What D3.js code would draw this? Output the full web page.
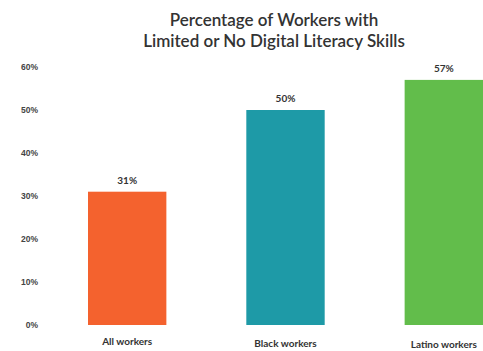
<!DOCTYPE html>
<html>
<head>
<meta charset="utf-8">
<script src="https://cdn.jsdelivr.net/npm/d3@7"></script>
<style>
  body { margin: 0; background: #fff; }
  svg { display: block; font-family: Lato, "Open Sans", sans-serif; }
  .title { font-size: 17px; font-weight: 600; fill: #333; }
  .tick text { font-size: 8.5px; font-weight: bold; fill: #444; }
  .val { font-size: 10px; font-weight: bold; fill: #333; }
  .cat { font-size: 10px; font-weight: bold; fill: #333; }
</style>
</head>
<body>
<svg></svg>
<script>
const categories = ["All workers", "Black workers", "Latino workers"]
const values = [0.31, 0.50, 0.57]
const colors = ["#f4622e", "#1e9aa7", "#62bd4b"]
const tickValues = [0, 0.1, 0.2, 0.3, 0.4, 0.5, 0.6]
const titleLines = ["Percentage of Workers with", "Limited or No Digital Literacy Skills"]

const data = categories.map((c, i) => ({ cat: c, value: values[i], color: colors[i] }))

const svg = d3.select("svg")
    .attr("width", 483)
    .attr("height", 351)

const x = d3.scaleBand()
    .domain(categories)
    .range([88, 483])
    .paddingInner(0.505)
    .paddingOuter(0)

const y = d3.scaleLinear()
    .domain([0, 0.6])
    .range([325, 67])

// title
svg.selectAll("text.title")
    .data(titleLines)
    .enter()
    .append("text")
    .attr("class", "title")
    .attr("x", 274)
    .attr("y", (d, i) => 26 + i * 21)
    .attr("text-anchor", "middle")
    .text(d => d)

// y axis, labels only
const yAxis = svg.append("g")
    .attr("transform", "translate(38,0)")
    .call(d3.axisLeft(y).tickValues(tickValues).tickFormat(d3.format(".0%")).tickSize(0).tickPadding(0))

yAxis.select(".domain").remove()
yAxis.selectAll(".tick text").attr("dy", "0.35em")

// bars
svg.selectAll("rect.bar")
    .data(data)
    .enter()
    .append("rect")
    .attr("class", "bar")
    .attr("x", d => x(d.cat))
    .attr("y", d => y(d.value))
    .attr("width", x.bandwidth())
    .attr("height", d => y(0) - y(d.value))
    .attr("fill", d => d.color)

// value labels
svg.selectAll("text.val")
    .data(data)
    .enter()
    .append("text")
    .attr("class", "val")
    .attr("x", d => x(d.cat) + x.bandwidth() / 2)
    .attr("y", d => y(d.value) - 8)
    .attr("text-anchor", "middle")
    .text(d => d3.format(".0%")(d.value))

// category labels
svg.selectAll("text.cat")
    .data(data)
    .enter()
    .append("text")
    .attr("class", "cat")
    .attr("x", d => x(d.cat) + x.bandwidth() / 2)
    .attr("y", (d, i) => 345 + i * 1.5)
    .attr("text-anchor", "middle")
    .text(d => d.cat)
</script>
</body>
</html>
